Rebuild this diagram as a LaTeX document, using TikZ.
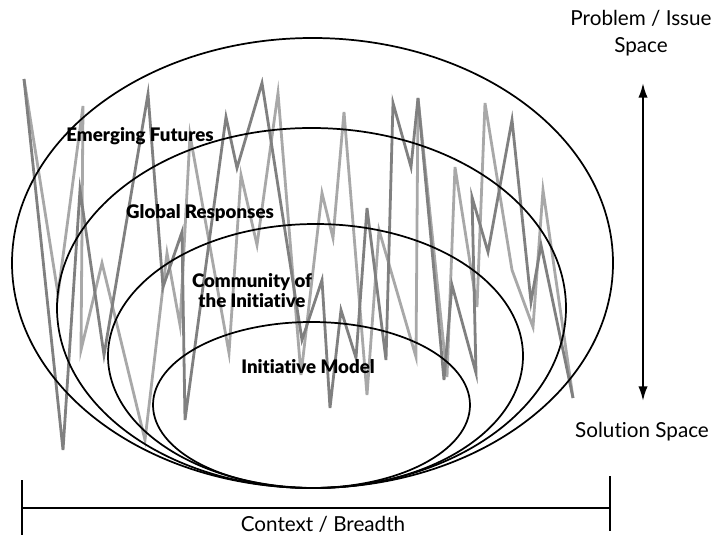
\documentclass[tikz,border=0pt]{standalone}
\usepackage{fontspec}
\setmainfont{Lato}[Ligatures=NoCommon]
\newfontfamily\heavyfont{Lato Black}[Ligatures=NoCommon]
\usepackage{tikz}
\usetikzlibrary{arrows.meta, positioning}

\begin{document}
\begin{tikzpicture}[x=0.75pt,y=0.75pt,yscale=-1,xscale=1,
	darkzig/.style={color={rgb, 255:red, 128; green, 128; blue, 128 }, line width=2.1},
	lightzig/.style={color={rgb, 255:red, 168; green, 168; blue, 168 }, line width=2.1},
	ring/.style={line width=1.3},
	lvl/.style={font=\fontsize{14}{14.5}\selectfont\heavyfont, align=center},
	axislbl/.style={font=\fontsize{15.5}{20}\selectfont, align=center}]
			\useasboundingbox (0,0) rectangle (715,535);
			
			%Straight Lines (light zigzag)
			\draw [lightzig] (24,79) -- (58,294) -- (83,106) -- (81,350) -- (102,263) -- (145,440) -- (167,253) -- (180,325) -- (190,135) -- (229,353) -- (241,175) -- (257,245) -- (278,93) -- (301,375) -- (322,193) -- (333,238) -- (344,112) -- (367,395) -- (379,230) -- (416,357) -- (418,98) -- (447,377) -- (455,167) -- (477,307) -- (485,103) -- (512,270) -- (533,327) -- (543,190) -- (573,398) ;
			%Straight Lines (dark zigzag)
			\draw [darkzig] (24,79) -- (63,450) -- (80,190) -- (104,355) -- (148,94) -- (163,287) -- (182,232) -- (185,420) -- (226,117) -- (237,168) -- (262,83) -- (302,340) -- (322,280) -- (330,408) -- (341,310) -- (356,358) -- (367,208) -- (386,360) -- (393,103) -- (411,167) -- (418,98) -- (444,380) -- (452,285) -- (476,373) -- (472,197) -- (488,252) -- (512,120) -- (531,302) -- (541,245) -- (573,398) ;
			
			%Shape: Ellipse
			\draw [ring] (312.5,263) ellipse [x radius=300.5, y radius=225] ;
			%Shape: Ellipse
			\draw [ring] (311.5,308) ellipse [x radius=254.5, y radius=180] ;
			%Shape: Ellipse
			\draw [ring] (315.5,356) ellipse [x radius=207.5, y radius=132] ;
			%Shape: Ellipse
			\draw [ring] (311.5,405) ellipse [x radius=158.5, y radius=83] ;
			
			%Straight Lines [vertical arrow]
			\coordinate (probtop) at (643,83);
			\coordinate (solbot) at (643,401);
			\draw [line width=1.5, {Latex[length=11,width=7]}-{Latex[length=11,width=7]}] (probtop) -- (solbot) ;
			
			%Straight Lines [breadth bar]
			\coordinate (barleft) at (22,508);
			\coordinate (barright) at (610,508);
			\draw [line width=1.6] (barleft) -- (barright) ;
			\draw [line width=1.6] ([yshift=-21]barleft) -- ([yshift=20]barleft) ;
			\draw [line width=1.6] ([yshift=-24]barright) -- ([yshift=17]barright) ;
			
			% Text Node
			\draw (140,136) node (emerging) [lvl] {Emerging Futures};
			% Text Node
			\draw (200,213) node (global) [lvl] {Global Responses};
			% Text Node
			\draw (252,290.5) node (community) [lvl] {Community of\\the Initiative};
			% Text Node
			\draw (308,367) node (initiative) [lvl] {Initiative Model};
			% Text Node
			\draw (641,33) node (problem) [axislbl] {Problem / Issue\\Space};
			% Text Node
			\draw (642,432) node (solution) [axislbl] {Solution Space};
			% Text Node
			\draw (323,524) node (breadth) [axislbl] {Context / Breadth};
			
\end{tikzpicture}
\end{document}
